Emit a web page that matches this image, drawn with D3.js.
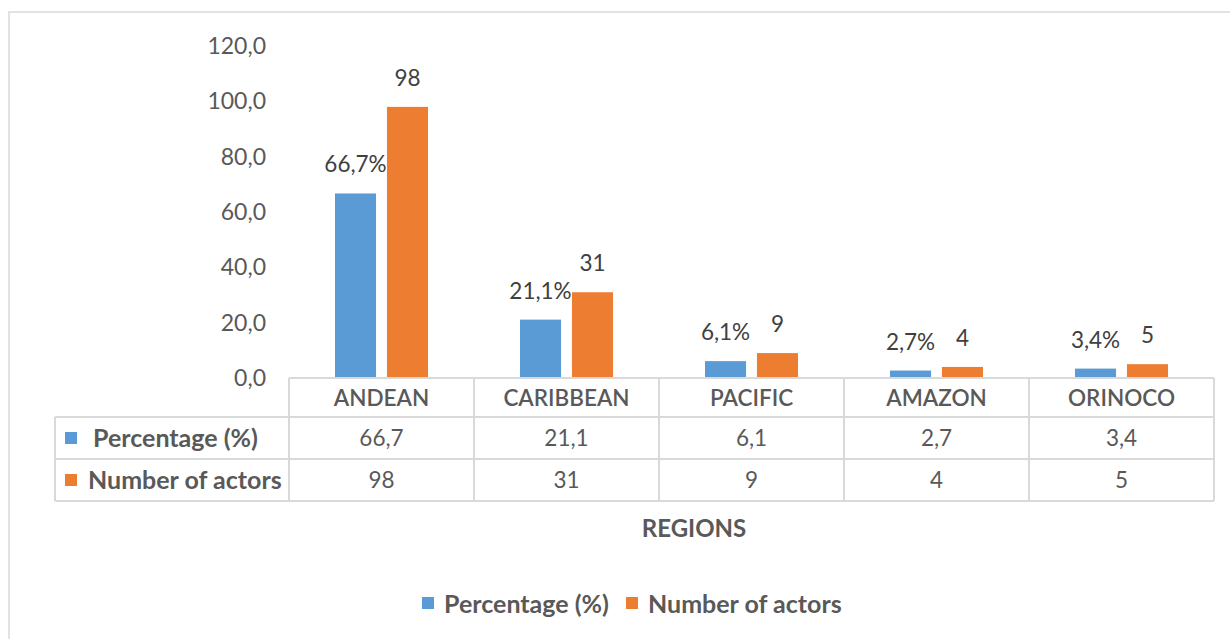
<!DOCTYPE html>
<html>
<head>
<meta charset="utf-8">
<script src="https://cdn.jsdelivr.net/npm/d3@7"></script>
<style>
  body { margin: 0; background: #fff; }
  text { font-family: Lato, "Noto Sans", sans-serif; fill: #595959; }
</style>
</head>
<body>
<svg id="chart"></svg>
<script>
// donnees
var regions = ["ANDEAN", "CARIBBEAN", "PACIFIC", "AMAZON", "ORINOCO"]
var series = ["Percentage (%)", "Number of actors"]
var percentage = [66.7, 21.1, 6.1, 2.7, 3.4]
var actors = [98, 31, 9, 4, 5]
var yTicks = [0, 20, 40, 60, 80, 100, 120]
var colors = ["#5B9BD5", "#ED7D31"]

var W = 1230, H = 639
var svg = d3.select("#chart").attr("width", W).attr("height", H)

var locale = d3.formatLocale({decimal: ",", thousands: ".", grouping: [3], currency: ["", ""]})
var f1 = locale.format(".1f")

// cadre exterieur
svg.append("rect")
  .attr("x", 9).attr("y", 12)
  .attr("width", 1400).attr("height", 800)
  .attr("fill", "none")
  .attr("stroke", "#D9D9D9")
  .attr("stroke-width", 1.5)

var plotLeft = 289, plotRight = 1214, plotTop = 46, plotBottom = 378

var x = d3.scaleBand().domain(regions).range([plotLeft, plotRight])
var x1 = d3.scaleBand().domain(series).range([46, 139]).paddingInner(0.21)
var y = d3.scaleLinear().domain([0, 120]).range([plotBottom, plotTop])

var values = [percentage, actors]

// axe y (sans ligne)
var yAxis = svg.append("g")
  .attr("transform", "translate(266,0)")
  .call(d3.axisLeft(y).tickValues(yTicks).tickFormat(f1).tickSize(0).tickPadding(0))
yAxis.select(".domain").remove()
yAxis.selectAll("text")
  .attr("fill", "#595959")
  .style("font-family", "Lato, 'Noto Sans', sans-serif")
  .style("font-size", "23px")

// barres
series.forEach(function(s, k){
  svg.selectAll(".bar" + k)
    .data(regions)
    .enter()
    .append("rect")
    .attr("class", "bar" + k)
    .attr("x", function(d){ return x(d) + x1(s) })
    .attr("y", function(d, i){ return y(values[k][i]) })
    .attr("width", x1.bandwidth())
    .attr("height", function(d, i){ return plotBottom - y(values[k][i]) })
    .attr("fill", colors[k])

  svg.selectAll(".lab" + k)
    .data(regions)
    .enter()
    .append("text")
    .attr("x", function(d){ return x(d) + x1(s) + x1.bandwidth() / 2 })
    .attr("y", function(d, i){ return y(values[k][i]) - 21 })
    .attr("text-anchor", "middle")
    .style("font-size", "22.5px")
    .style("fill", "#404040")
    .text(function(d, i){ return k == 0 ? f1(values[k][i]) + "%" : values[k][i] })
})

// tableau de donnees
var rowTop = [378, 417, 459, 501]
var tableLeft = 55
var grid = "#D9D9D9"

function hline(x1_, x2_, yy){
  svg.append("line").attr("x1", x1_).attr("x2", x2_).attr("y1", yy).attr("y2", yy)
    .attr("stroke", grid).attr("stroke-width", 2)
}
function vline(xx, y1_, y2_){
  svg.append("line").attr("x1", xx).attr("x2", xx).attr("y1", y1_).attr("y2", y2_)
    .attr("stroke", grid).attr("stroke-width", 2)
}

hline(plotLeft, plotRight, rowTop[0])
hline(tableLeft, plotRight, rowTop[1])
hline(tableLeft, plotRight, rowTop[2])
hline(tableLeft, plotRight, rowTop[3])
vline(tableLeft, rowTop[1], rowTop[3])
regions.forEach(function(r){ vline(x(r), rowTop[0], rowTop[3]) })
vline(plotRight, rowTop[0], rowTop[3])

// entetes de colonnes
svg.selectAll(".cat")
  .data(regions)
  .enter()
  .append("text")
  .attr("x", function(d){ return x(d) + x.bandwidth() / 2 })
  .attr("y", (rowTop[0] + rowTop[1]) / 2 + 8)
  .attr("text-anchor", "middle")
  .style("font-size", "22.5px")
  .style("font-weight", "600")
  .text(function(d){ return d })

// lignes du tableau
series.forEach(function(s, k){
  var cy = (rowTop[k + 1] + rowTop[k + 2]) / 2
  svg.append("rect")
    .attr("x", 65).attr("y", cy - 6)
    .attr("width", 12).attr("height", 12)
    .attr("fill", colors[k])
  svg.append("text")
    .attr("x", k == 0 ? 93 : 88)
    .attr("y", cy + 8.5)
    .style("font-size", "25px")
    .style("font-weight", "700")
    .text(s)
  svg.selectAll(".cell" + k)
    .data(regions)
    .enter()
    .append("text")
    .attr("x", function(d){ return x(d) + x.bandwidth() / 2 })
    .attr("y", cy + 8)
    .attr("text-anchor", "middle")
    .style("font-size", "22.5px")
    .text(function(d, i){ return k == 0 ? f1(values[k][i]) : values[k][i] })
})

// titre de l'axe x
svg.append("text")
  .attr("x", 694).attr("y", 537)
  .attr("text-anchor", "middle")
  .style("font-size", "24px")
  .style("font-weight", "700")
  .text("REGIONS")

// legende
var legX = [422, 626]
series.forEach(function(s, k){
  svg.append("rect")
    .attr("x", legX[k]).attr("y", 597)
    .attr("width", 12).attr("height", 12)
    .attr("fill", colors[k])
  svg.append("text")
    .attr("x", legX[k] + 22).attr("y", 612.5)
    .style("font-size", "25px")
    .style("font-weight", "700")
    .text(s)
})
</script>
</body>
</html>
